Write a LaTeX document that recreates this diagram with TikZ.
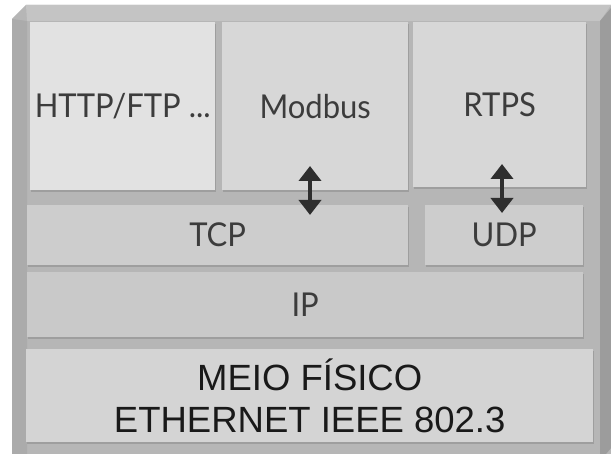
\documentclass[tikz,border=0pt]{standalone}
\usepackage{fontspec}
\setmainfont{Liberation Sans}
\newfontfamily\layerfont{Lato}
\usetikzlibrary{arrows.meta,shadows}

\definecolor{frameMid}{HTML}{B6B6B6}
\definecolor{frameTop}{HTML}{C4C4C4}
\definecolor{frameLeft}{HTML}{ABABAB}
\definecolor{frameRight}{HTML}{9C9C9C}
\definecolor{appLight}{HTML}{E2E2E2}
\definecolor{appMid}{HTML}{D7D7D7}
\definecolor{transport}{HTML}{CDCDCD}
\definecolor{netlayer}{HTML}{C9C9C9}
\definecolor{phys}{HTML}{D4D4D4}
\definecolor{labelInk}{HTML}{3C3C3C}
\definecolor{arrowInk}{HTML}{2E2E2E}

% slightly tall lettering
\newcommand{\tall}[2]{\scalebox{1}[#1]{#2}}

\tikzset{
  x=1pt, y=1pt,
  layer/.style={draw=none, anchor=north west, inner sep=0pt, align=center,
    drop shadow={shadow xshift=1pt, shadow yshift=-1.5pt, fill=black!45, opacity=.55},
    font=\layerfont\fontsize{31}{36}\selectfont, text=labelInk},
  physbox/.style={layer, font=\fontsize{36.5}{42}\selectfont, text=black!90},
  dblarrow/.style={{Triangle[width=22pt,length=15pt]}-{Triangle[width=22pt,length=15pt]},
    line width=4pt, draw=arrowInk}
}

\begin{document}
\begin{tikzpicture}
  % page
  \fill[white] (0,0) rectangle (611,-454);
  \useasboundingbox (0,0) rectangle (611,-454);

  % bevelled outer frame
  \fill[frameMid] (12,-454) -- (12,-19) -- (26,-5) -- (611,-5) -- (611,-454) -- cycle;
  \fill[frameTop] (26,-5) -- (611,-5) -- (600,-21) -- (27,-21) -- cycle;
  \fill[frameLeft] (12,-454) -- (12,-19) -- (27,-21) -- (27,-454) -- cycle;
  \fill[frameRight] (600,-21) -- (611,-8) -- (611,-448) -- (606,-454) -- (600,-454) -- cycle;

  % application layer
  \node[layer, fill=appLight, minimum width=185pt, minimum height=168pt] (http) at (30,-22) {\tall{1.06}{HTTP/FTP ...}};
  \node[layer, fill=appMid, minimum width=186pt, minimum height=168pt] (modbus) at (222,-22) {\tall{1.06}{Modbus}};
  \node[layer, fill=appMid, minimum width=173pt, minimum height=165pt] (rtps) at (413,-22) {\tall{1.06}{RTPS}};

  % transport layer
  \node[layer, fill=transport, minimum width=381pt, minimum height=60pt] (tcp) at (27,-205) {\tall{1.06}{TCP}};
  \node[layer, fill=transport, minimum width=158pt, minimum height=60pt] (udp) at (425,-205) {\tall{1.06}{UDP}};

  % network layer
  \node[layer, fill=netlayer, minimum width=556pt, minimum height=65pt] (ip) at (27,-272) {\tall{1.06}{IP}};

  % physical medium
  \node[physbox, fill=phys, minimum width=567pt, minimum height=93pt] (phy) at (26,-349)
    {MEIO FÍSICO\\ETHERNET IEEE 802.3};

  % exchanges between application and transport
  \coordinate (mbTop) at (310,-166);
  \coordinate (tcpIn) at (310,-215);
  \coordinate (rtTop) at (502,-164);
  \coordinate (udpIn) at (502,-213);
  \draw[dblarrow] (mbTop) -- (tcpIn);
  \draw[dblarrow] (rtTop) -- (udpIn);
\end{tikzpicture}
\end{document}
